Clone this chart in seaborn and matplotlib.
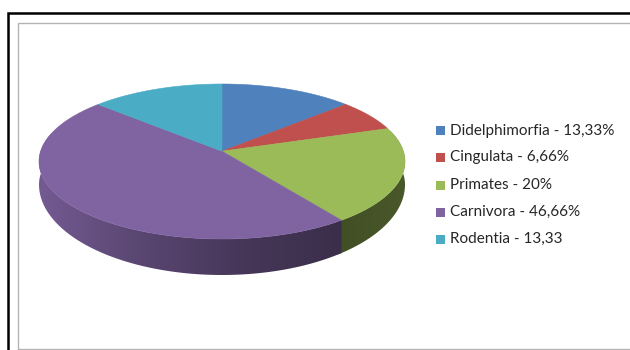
import numpy as np
import matplotlib
matplotlib.use("Agg")
import matplotlib.pyplot as plt
from matplotlib.patches import Polygon, Rectangle
import seaborn as sns

# Order share of each group, clockwise from twelve o'clock
orders = ["Didelphimorfia", "Cingulata", "Primates", "Carnivora", "Rodentia"]
shares = [13.33, 6.66, 20, 46.66, 13.33]
legend_labels = ["Didelphimorfia - 13,33%", "Cingulata - 6,66%", "Primates - 20%",
                 "Carnivora - 46,66%", "Rodentia - 13,33"]
hex_colors = ["#4F81BD", "#C0504D", "#9BBB59", "#8064A2", "#4BACC6"]

sns.set_theme(style="white")
plt.rcParams["font.family"] = ["Lato", "DejaVu Sans"]
palette = sns.color_palette(hex_colors)

W, H = 630, 350
fig = plt.figure(figsize=(W / 100, H / 100), dpi=100)
ax = fig.add_axes([0, 0, 1, 1])

# Outer page frame and inner chart border
ax.plot([8, 8, W], [H, 12.5, 12.5], color="black", lw=1.8, solid_joinstyle="miter")
ax.plot([17.5, 17.5, W], [348.5, 23, 23], color="#b4b4b4", lw=1.0, solid_joinstyle="miter")
ax.plot([17.5, W], [348.5, 348.5], color="#b4b4b4", lw=1.0)

# Projected disc
CX, CY, RX, RY = 222, 161.5, 183, 77.5
FORESHORTEN = 0.875
WALL_BASE, WALL_FRONT = 23, 13


def ellipse_angle(t):
    """Perspective-corrected ellipse angle for a true angle t (radians from top)."""
    return 2 * np.arctan(FORESHORTEN * np.tan(np.asarray(t, dtype=float) / 2))


def rim(t):
    a = ellipse_angle(t)
    return CX + RX * np.sin(a), CY - RY * np.cos(a)


def wall_depth(t):
    return WALL_BASE + WALL_FRONT * np.clip(-np.cos(ellipse_angle(t)), 0, 1)


apex_x, apex_y = CX, float(rim(np.pi / 2)[1])
edges = np.radians(np.cumsum([0] + shares) / sum(shares) * 360)
edges[-1] = 2 * np.pi


def angle_samples(a, b, n=160):
    ts = np.linspace(a, b, n)
    return ts[np.abs(ts - np.pi) > 1e-6]


# Brightness of the side wall for each slice, as a function of horizontal position
WALL_X = [40, 140, 240, 340, 405]
WALL_LIGHT = {3: [0.90, 0.70, 0.55, 0.46, 0.46], 2: [0.42, 0.42, 0.42, 0.42, 0.47]}

gx = np.arange(0, W + 1)
for i, (a, b) in enumerate(zip(edges[:-1], edges[1:])):
    lo, hi = max(a, np.radians(74)), min(b, np.radians(284))
    if lo >= hi:
        continue
    # The wall behind runs slightly under its neighbour so no seam shows
    if i == 2:
        hi += np.radians(1.5)
    ts = angle_samples(lo, hi)
    xs, ys = rim(ts)
    depth = wall_depth(ts)
    outline = np.column_stack([np.r_[xs, xs[::-1]], np.r_[ys, (ys + depth)[::-1]]])
    clip = Polygon(outline, closed=True, transform=ax.transData, fc="none", ec="none")
    ax.add_patch(clip)
    f = np.interp(gx, WALL_X, WALL_LIGHT[i])[None, :, None]
    strip = np.clip(np.array(palette[i])[None, None, :] * f, 0, 1)
    img = ax.imshow(strip, extent=[0, W, H, 0], aspect="auto", zorder=2 + i * 0.01,
                    interpolation="bilinear")
    img.set_clip_path(clip)

# Top faces
for i, (a, b) in enumerate(zip(edges[:-1], edges[1:])):
    xs, ys = rim(angle_samples(a, b))
    pts = np.column_stack([np.r_[apex_x, xs], np.r_[apex_y, ys]])
    ax.add_patch(Polygon(pts, closed=True, fc=palette[i], ec=palette[i], lw=0.4, zorder=3))

# Legend
LEGEND_Y = [130.5, 157.5, 185, 212, 239]
for color, label, y in zip(palette, legend_labels, LEGEND_Y):
    ax.add_patch(Rectangle((435.5, y - 4.5), 9, 9, fc=color, ec="none", zorder=4))
    ax.text(449.5, y, label, fontsize=11, color="#262626", va="center", ha="left", zorder=4)

ax.set_xlim(0, W)
ax.set_ylim(H, 0)
ax.set_position([0, 0, 1, 1])
ax.axis("off")

fig.savefig("out.png", dpi=100, facecolor="white")
